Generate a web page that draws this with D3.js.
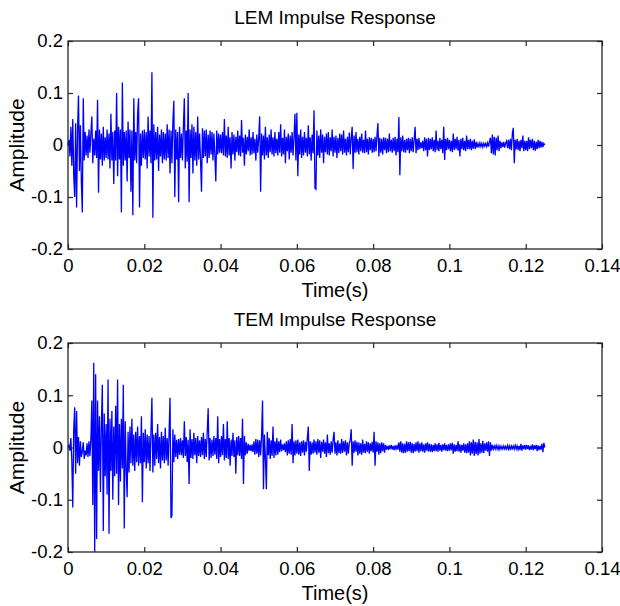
<!DOCTYPE html>
<html>
<head>
<meta charset="utf-8">
<script src="https://cdn.jsdelivr.net/npm/d3@7"></script>
<style>
  body { margin: 0; background: #fff; }
  text { font-family: "Liberation Sans", Arial, sans-serif; fill: #000; }
</style>
</head>
<body>
<script>
// sample spacing of both impulse responses (4 kHz), 501 samples -> 0..0.125 s
const sampleStep = 0.00025;

// LEM impulse response, amplitude in thousandths
const lemMilli = [
  0, 10, -22, 35, -40, 50, -58, -100, 42, -120, 28, 95, -50, 38, -70, -130, 90, -30, 25, -20,
  18, -25, 30, -15, 22, 55, -35, 12, -20, 28, -25, 87, -92, 30, -28, 22, -40, 35, -30, 15,
  -25, 30, -28, 22, -45, 60, -30, 25, -75, 28, -30, 100, -60, 35, -28, 30, -130, 120, -40, 25,
  -30, 28, -70, 45, -25, 30, -90, 28, -135, 90, -30, 25, -35, 60, 90, -120, 22, -40, 28, -25,
  30, -28, 25, -45, 55, -22, 28, -35, 140, -140, 40, -30, 25, -28, 35, -50, 20, -22, 30, -35,
  25, -28, 22, -30, 40, -25, 30, -55, 28, -35, 45, 85, -100, 30, -28, 25, -110, 35, -25, 22,
  -30, 35, 90, -45, 28, -32, 100, -110, 30, -25, 40, -55, 35, -30, 25, -40, 55, -28, 22, -30,
  -90, 32, -25, 28, -22, 30, -35, 20, -25, 28, -18, 25, -30, 22, -20, -70, 28, -18, 22, -15,
  20, -16, 25, -20, 50, -22, 18, -25, 35, -20, 15, -45, 25, -18, 20, -30, 16, -14, 28, -20,
  18, -22, 48, -15, 14, -40, 20, -18, 16, -12, 30, -20, 15, -18, 25, -16, 12, -30, 20, -15,
  14, 55, -90, 22, -20, 18, -28, 35, -20, 15, -25, 20, -14, 30, -18, 15, -22, 25, -16, 12,
  -20, 25, -15, 40, -22, 14, -18, 30, -35, 16, -12, 22, -28, 18, -15, 25, -20, 14, 60, -30,
  62, -60, 20, -18, 30, -25, 16, -20, 25, -15, 14, -22, 38, -18, 15, -30, 20, -16, 67, -83,
  -85, 28, -20, 18, -25, 30, -15, 20, -35, 16, -14, 22, -18, 25, -20, 15, -12, 30, -22, 16,
  -15, 18, -25, 14, -16, 22, -12, 20, -18, 28, -15, 12, -20, 16, -14, 24, -18, 15, 35, -46,
  18, -15, 25, -14, 12, -18, 16, -12, 22, -15, 10, -16, 28, -14, 12, -18, 15, -10, 14, -15,
  12, -14, 16, -12, 18, 42, -22, 14, -15, 12, -18, 15, -10, 14, -16, 12, -14, 22, -12, 10,
  -15, 14, -12, 16, -20, 12, -14, 54, -58, 15, -12, 18, -14, 10, -15, 12, -10, 14, -16, 12,
  -12, 15, -14, 10, 35, -16, 12, -10, 14, -8, 5, -6, 8, -12, 15, -10, 12, -22, 14, -10,
  12, -8, 15, -12, 10, -14, 28, -10, 8, -12, 14, -8, 10, -16, 35, -29, 12, -10, 14, -8,
  10, -12, 8, -14, 22, -10, 12, -8, 16, -11, 10, -22, 12, -8, 14, -10, 8, -12, 18, -8,
  10, -8, 12, -10, 8, -7, 11, -8, 6, -5, 3, -3, 4, -3, 3, -4, 3, -2, 3, -3,
  4, -3, 7, 14, -16, 20, -18, 16, -20, 14, -10, 18, -12, 8, -6, 5, -4, 6, -5, 4,
  8, -6, 10, -8, 12, -10, 22, 33, -35, 10, -8, 12, -10, 8, -12, 10, -6, 18, -12, 8,
  -10, 8, -12, 15, -8, 10, -6, 12, -10, 8, -11, 6, -8, 10, -6, 8, -5, 6, -4, 3, 0
];

// TEM impulse response, amplitude in thousandths
const temMilli = [
  0, 4, -6, 18, -25, -115, 35, 77, -50, 70, -30, 20, -35, 12, -18, -8, 10, -22, -6, -15,
  8, -18, 12, -16, 15, 90, -110, 162, -200, 140, -175, 90, -45, 60, -85, 40, 120, -160, 65, -55,
  45, -90, 130, -165, 55, -45, 70, -100, 40, -55, 80, -50, 130, -110, 45, -65, 55, -40, 120, -155,
  50, -38, -95, 30, -48, 40, -30, 55, -35, 25, -45, 30, -28, 40, -35, 22, -30, 60, -105, 28,
  -28, 35, -40, 25, -30, 22, -45, 30, 95, -48, 25, -35, 28, -22, 45, -30, 20, -40, 30, -25,
  22, -30, 38, -25, 18, -35, 28, 95, -135, -130, 35, -28, 25, -18, 15, -22, 16, -14, 18, -15,
  14, -20, 50, -16, 20, -28, 15, -70, 35, -20, 16, -22, 28, -15, 18, -30, 22, -16, 14, -18,
  20, -15, 28, -22, 16, -18, 30, 75, -25, 18, -20, 15, -16, 22, -14, 18, -22, 60, -30, 16,
  -18, 22, -15, 45, -25, 16, -20, 50, -22, 18, -35, 15, -16, 28, -18, 14, -50, 20, -15, 22,
  -16, 18, -22, 55, -70, 22, -15, 10, -12, 7, -6, 5, -7, 6, -9, 12, -14, 16, -12, 15,
  -18, 14, -15, 22, 90, -80, 25, -18, -80, 30, -15, 18, -22, 14, -16, 40, -20, 12, -15, 18,
  -14, 12, -9, 15, -7, 6, -5, 8, -9, 12, -15, 14, -12, 16, -14, 45, -30, 12, -15, 14,
  -12, 15, -14, 10, -16, 12, -10, 14, -15, 11, -8, 18, 40, -45, 12, -14, 10, -12, 15, -10,
  12, -14, 16, -10, 14, -20, 11, -8, 15, -12, 10, -18, 25, -11, 8, -14, 12, -10, 15, 30,
  -12, 10, -15, 14, -11, 8, -12, 16, -10, 12, -8, 14, -15, 10, -12, 8, 15, 35, -35, 12,
  -10, 14, -8, 11, -15, 10, -12, 8, -14, 15, -10, 7, -11, 12, -8, 10, -12, 8, -7, 11,
  -10, 30, -35, 12, -8, 10, -14, 8, -11, 10, -7, 8, -10, 5, -4, 3, -5, 4, -3, 5,
  -4, 3, -5, 4, -3, 3, -4, 10, -8, 12, -10, 8, -11, 7, -10, 12, -8, 10, -7, 11,
  -10, 8, -11, 7, -8, 10, -7, 12, -10, 8, -7, 10, -8, 6, -10, 8, -6, 10, -8, 7,
  -8, 6, -9, 5, -7, 8, -7, 6, -8, 9, -6, 5, -8, 6, -5, 8, -6, 5, -7, 6,
  -6, 8, -5, 9, -12, 6, -8, 5, -7, 12, -8, 6, -10, 5, -6, 8, -10, 6, -11, 8,
  -10, 12, -15, 10, -12, 15, -16, 11, -13, 10, -15, 16, -12, 8, -10, 13, -11, 8, -6, 10,
  -8, 12, -16, 10, -6, 5, -3, 3, -3, 4, -3, 3, -4, 3, -3, 2, -3, 3, -3, 2,
  -3, 4, -3, 3, -5, 3, -2, 3, -3, 4, -3, 3, -4, 3, -5, 7, -6, 4, -3, 5,
  -4, 5, -3, 4, -5, 3, -4, 6, -5, 4, -3, 5, -7, 4, -5, 3, -4, 7, -9, 9, 0
];

const xTicks = [0, 0.02, 0.04, 0.06, 0.08, 0.1, 0.12, 0.14];
const yTicks = [-0.2, -0.1, 0, 0.1, 0.2];
const titles = ['LEM Impulse Response', 'TEM Impulse Response'];
const xLabel = 'Time(s)';
const yLabel = 'Amplitude';

const width = 620;
const height = 606;

const svg = d3.select('body')
  .append('svg')
  .attr('width', width)
  .attr('height', height);

const x = d3.scaleLinear().domain([0, 0.14]).range([68, 602]);

function drawPanel(milli, title, top, bottom) {
  const y = d3.scaleLinear().domain([-0.2, 0.2]).range([bottom, top]);
  const g = svg.append('g');
  const pts = milli.map((v, i) => [i * sampleStep, v / 1000]);

  // signal
  g.append('path')
    .datum(pts)
    .attr('fill', 'none')
    .attr('stroke', '#0000ff')
    .attr('stroke-width', 1.3)
    .attr('d', d3.line().x((d) => x(d[0])).y((d) => y(d[1])));

  // inward ticks on all four sides
  const fmt = (d) => String(d);
  const strip = (sel) => {
    sel.select('.domain').remove();
    sel.selectAll('line').attr('stroke', '#262626').attr('stroke-width', 1.2);
    sel.selectAll('text').attr('fill', '#000').style('font-size', '18.5px');
  };
  g.append('g').attr('transform', `translate(0,${bottom})`)
    .call(d3.axisBottom(x).tickValues(xTicks).tickFormat(fmt).tickSize(-5).tickPadding(10))
    .call(strip);
  g.append('g').attr('transform', `translate(0,${top})`)
    .call(d3.axisTop(x).tickValues(xTicks).tickFormat('').tickSize(-5))
    .call(strip);
  g.append('g').attr('transform', `translate(68,0)`)
    .call(d3.axisLeft(y).tickValues(yTicks).tickFormat(fmt).tickSize(-5).tickPadding(5))
    .call(strip);
  g.append('g').attr('transform', `translate(602,0)`)
    .call(d3.axisRight(y).tickValues(yTicks).tickFormat('').tickSize(-5))
    .call(strip);

  g.append('rect')
    .attr('x', 68).attr('y', top)
    .attr('width', 534).attr('height', bottom - top)
    .attr('fill', 'none')
    .attr('stroke', '#262626')
    .attr('stroke-width', 1.3);

  g.append('text')
    .attr('x', 335).attr('y', top - 17)
    .attr('text-anchor', 'middle')
    .style('font-size', '19px')
    .text(title);

  g.append('text')
    .attr('x', 335).attr('y', bottom + 48)
    .attr('text-anchor', 'middle')
    .style('font-size', '20px')
    .text(xLabel);

  g.append('text')
    .attr('transform', `translate(23.5,${(top + bottom) / 2}) rotate(-90)`)
    .attr('text-anchor', 'middle')
    .style('font-size', '21px')
    .text(yLabel);
}

drawPanel(lemMilli, titles[0], 41, 249);
drawPanel(temMilli, titles[1], 343, 552);
</script>
</body>
</html>
